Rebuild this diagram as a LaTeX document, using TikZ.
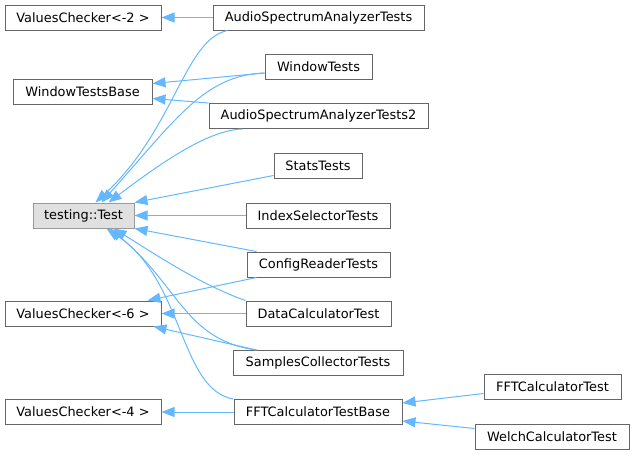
\documentclass[tikz,border=0pt]{standalone}
\usepackage{fontspec}
\setmainfont{DejaVu Sans}
\usepackage{tikz}
\usetikzlibrary{calc,arrows.meta}
\definecolor{edge}{RGB}{99,184,255}
\definecolor{frame}{RGB}{102,102,102}
\definecolor{basefill}{RGB}{224,224,224}
\definecolor{baseframe}{RGB}{153,153,153}

\begin{document}
\begin{tikzpicture}[x=1pt,y=-1pt,
  cls/.style={draw=frame,line width=1pt,fill=white,inner sep=0pt,minimum height=25pt,font=\fontsize{12.9}{15}\selectfont},
  inh/.style={edge,line width=1pt,-{Triangle[length=13pt,width=10pt]}}]
\useasboundingbox (0,0) rectangle (635,455);
% base classes
\node[cls,minimum width=156pt] (vc2) at (83,17.5) {ValuesChecker<-2 >};
\node[cls,minimum width=139pt] (wtb) at (82.5,91.5) {WindowTestsBase};
\node[cls,minimum width=101pt,draw=baseframe,fill=basefill] (test) at (83.5,215.5) {testing::Test};
\node[cls,minimum width=156pt] (vc6) at (83,313.5) {ValuesChecker<-6 >};
\node[cls,minimum width=156pt] (vc4) at (83,412) {ValuesChecker<-4 >};
% test classes
\node[cls,minimum width=211pt] (asat) at (318.5,17.5) {AudioSpectrumAnalyzerTests};
\node[cls,minimum width=107pt] (wt) at (318.5,66.5) {WindowTests};
\node[cls,minimum width=219pt] (asat2) at (318.5,116) {AudioSpectrumAnalyzerTests2};
\node[cls,minimum width=88pt] (stats) at (318,165.5) {StatsTests};
\node[cls,minimum width=144pt] (isel) at (318,215.5) {IndexSelectorTests};
\node[cls,minimum width=143pt] (crt) at (318.5,264.5) {ConfigReaderTests};
\node[cls,minimum width=145pt] (dct) at (318.5,313.5) {DataCalculatorTest};
\node[cls,minimum width=170pt] (sct) at (318,363) {SamplesCollectorTests};
\node[cls,minimum width=168pt] (fftb) at (318,412) {FFTCalculatorTestBase};
\node[cls,minimum width=137pt] (fftt) at (552.5,386.5) {FFTCalculatorTest};
\node[cls,minimum width=154pt] (welch) at (552,436.5) {WelchCalculatorTest};
% inheritance
\draw[inh] (asat.west) -- (vc2.east);
\draw[inh] ($(asat.south west)+(15,0)$) .. controls +(-43,9) and +(79,-73) .. ($(test.north)+(12,0)$);
\draw[inh] ($(wt.west)+(0,6.5)$) -- ($(wtb.east)+(0,-8)$);
\draw[inh] ($(wt.west)+(0,6.5)$) .. controls +(-60,2) and +(74,-83) .. ($(test.north)+(18,0)$);
\draw[inh] (asat2.north west) -- ($(wtb.east)+(0,7)$);
\draw[inh] ($(asat2.south west)+(34,0)$) .. controls +(-33,1) and +(57,-43) .. ($(test.north)+(25,0)$);
\draw[inh] ($(stats.south west)+(0,-3)$) -- (test.north east);
\draw[inh] (isel.west) -- (test.east);
\draw[inh] ($(crt.north west)+(10,0)$) -- (test.south east);
\draw[inh] ($(crt.south west)+(10,0)$) -- ($(vc6.north east)+(-14,0)$);
\draw[inh] (dct.north west) .. controls +(-46,-16) and +(36,22) .. ($(test.south)+(30,0)$);
\draw[inh] (dct.west) -- (vc6.east);
\draw[inh] ($(sct.north west)+(24,0)$) .. controls +(-72,-10) and +(70,57) .. ($(test.south)+(26,0)$);
\draw[inh] ($(sct.north west)+(24,0)$) -- ($(vc6.south east)+(-8,0)$);
\draw[inh] (fftb.north west) .. controls +(-54,-9) and +(78,52) .. ($(test.south)+(23,0)$);
\draw[inh] (fftb.west) -- (vc4.east);
\draw[inh] ($(fftt.west)+(0,7)$) -- ($(fftb.east)+(0,-9)$);
\draw[inh] ($(welch.west)+(0,-8)$) -- ($(fftb.east)+(0,9)$);
\end{tikzpicture}
\end{document}
